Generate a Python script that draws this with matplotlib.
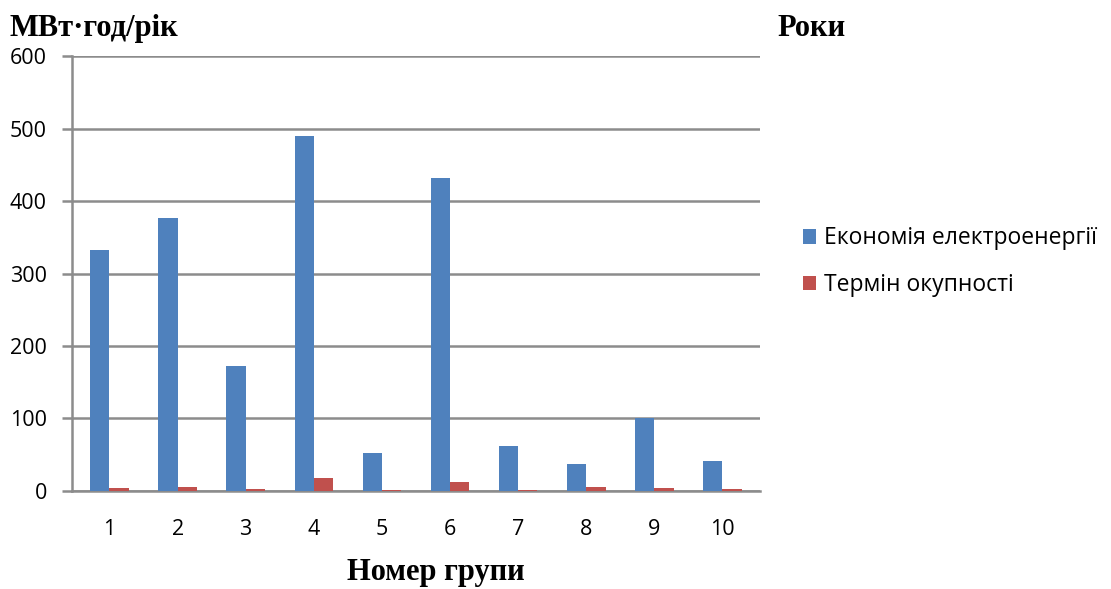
import matplotlib
matplotlib.use("Agg")
import matplotlib.pyplot as plt
import numpy as np

groups = ["1", "2", "3", "4", "5", "6", "7", "8", "9", "10"]
savings = [332, 376, 172, 490, 53, 432, 62, 37, 100, 41]
payback = [4.5, 6, 3, 17.5, 1.5, 13, 1.5, 5.5, 4.3, 2.3]
series_names = ["Економія електроенергії", "Термін окупності"]
y_ticks = [0, 100, 200, 300, 400, 500, 600]

blue = "#4F81BD"
red = "#C0504D"
grid_col = "#8C8C8C"

fig = plt.figure(figsize=(11.11, 5.89), dpi=100)
ax = fig.add_axes([0.0648, 0.1664, 0.6192, 0.7385])

x = np.arange(len(groups))
w = 0.283
ax.bar(x - w / 2, savings, width=w, color=blue, label=series_names[0], zorder=3)
ax.bar(x + w / 2, payback, width=w, color=red, label=series_names[1], zorder=3)

ax.set_xlim(-0.55, len(groups) - 0.45)
ax.set_ylim(0, 600)
ax.set_yticks(y_ticks)
ax.set_xticks(x)
ax.set_xticklabels(groups)

tick_font = "Open Sans"
for lbl in ax.get_xticklabels() + ax.get_yticklabels():
    lbl.set_fontfamily(tick_font)
    lbl.set_fontsize(15.5)

ax.yaxis.grid(True, color=grid_col, linewidth=1.8, zorder=0)
ax.tick_params(axis="y", length=7, width=1.8, color=grid_col, pad=11)
ax.tick_params(axis="x", length=0, pad=20)
for side in ["top", "right"]:
    ax.spines[side].set_visible(False)
for side in ["left", "bottom"]:
    ax.spines[side].set_color(grid_col)
    ax.spines[side].set_linewidth(1.8)

serif = "Liberation Serif"
fig.text(0.009, 0.952, "МВт·год/рік", fontfamily=serif, fontweight="bold",
         fontsize=22, ha="left", va="center")
fig.text(0.700, 0.952, "Роки", fontfamily=serif, fontweight="bold",
         fontsize=22, ha="left", va="center")
fig.text(0.392, 0.0155, "Номер групи", fontfamily=serif, fontweight="bold",
         fontsize=22, ha="center", va="baseline")

leg = fig.legend(loc="upper left", bbox_to_anchor=(0.708, 0.643), frameon=False,
                 prop={"family": tick_font, "size": 16.5}, handlelength=0.6,
                 handleheight=0.6, handletextpad=0.35, labelspacing=1.0,
                 borderpad=0.2)

fig.savefig("out.png", dpi=100)
